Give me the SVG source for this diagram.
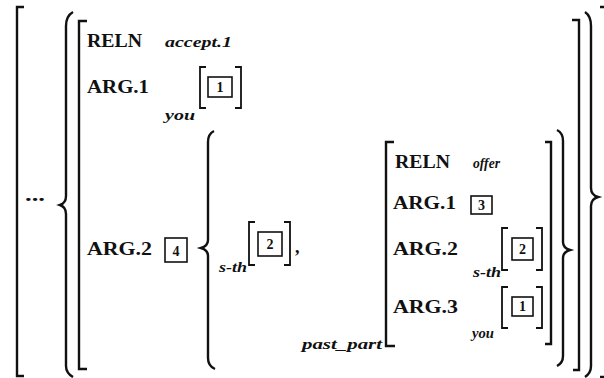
<svg xmlns="http://www.w3.org/2000/svg" width="604" height="378" viewBox="0 0 604 378">
  <style>
    .br { fill: none; stroke: #111; stroke-width: 2.4; stroke-linecap: butt; stroke-linejoin: miter; }
    .sb { fill: none; stroke: #111; stroke-width: 1.8; }
    .bx { fill: #fff; stroke: #111; stroke-width: 1.6; }
    .ft { font-family: "Liberation Serif", "DejaVu Serif", serif; font-weight: bold; font-size: 18px; fill: #111; }
    .vl { font-family: "Liberation Serif", "DejaVu Serif", serif; font-weight: bold; font-style: italic; font-size: 15px; fill: #111; }
    .nm { font-family: "Liberation Serif", "DejaVu Serif", serif; font-weight: bold; font-size: 14px; fill: #111; text-anchor: middle; }
  </style>
  <rect width="604" height="378" fill="#fff"/>

  <!-- outer list brackets -->
  <g id="outer">
    <path class="br" d="M24,7 H17 V376 H24"/>
    <path class="br" d="M600,7 H606 V377 H600"/>
    <text class="ft" x="25" y="201" textLength="20" lengthAdjust="spacingAndGlyphs">...</text>
  </g>

  <!-- set braces around the main structure -->
  <g id="outer-set">
    <path class="br" d="M73,12 Q66,16 66,26 V196 Q66,203 60,205 Q66,207 66,214 V366 Q66,373 73,377"/>
    <path class="br" d="M585,12 Q591,16 591,26 V188 Q591,195 598,197 Q591,199 591,206 V366 Q591,373 585,377"/>
  </g>

  <!-- accept.1 feature structure -->
  <g id="accept">
    <path class="br" d="M87,21 H79 V369 H87"/>
    <path class="br" d="M572,20 H579 V370 H573"/>
    <text class="ft" x="87" y="47" textLength="55" lengthAdjust="spacingAndGlyphs">RELN</text>
    <text class="vl" x="165" y="47" textLength="67" lengthAdjust="spacingAndGlyphs">accept.1</text>
    <text class="ft" x="87" y="93" textLength="62" lengthAdjust="spacingAndGlyphs">ARG.1</text>
    <text class="vl" x="165" y="120" textLength="30" lengthAdjust="spacingAndGlyphs">you</text>
    <path class="sb" d="M206,67 H200 V108 H206"/>
    <path class="sb" d="M235,67 H241 V108 H235"/>
    <rect class="bx" x="208" y="77" width="24" height="20"/>
    <text class="nm" x="220" y="92">1</text>
    <text class="ft" x="87" y="255" textLength="65" lengthAdjust="spacingAndGlyphs">ARG.2</text>
    <rect class="bx" x="165" y="238" width="22" height="24"/>
    <text class="nm" x="176" y="256">4</text>
  </g>

  <!-- disjunction set for ARG.2 -->
  <g id="arg2-set">
    <path class="br" d="M214,131 Q208,134 208,142 V240 Q208,246 201,248 Q208,250 208,256 V358 Q208,366 215,369"/>
    <path class="br" d="M557,130 Q563,133 563,141 V242 Q563,248 570,250 Q563,252 563,258 V356 Q563,363 557,366"/>
  </g>

  <!-- s-th [2] -->
  <g id="sth">
    <text class="vl" x="219" y="272" textLength="28" lengthAdjust="spacingAndGlyphs">s-th</text>
    <path class="sb" d="M255,222 H249 V265 H255"/>
    <path class="sb" d="M284,222 H290 V265 H284"/>
    <rect class="bx" x="258" y="232" width="24" height="24"/>
    <text class="nm" x="270" y="249">2</text>
    <text class="ft" x="295" y="253">,</text>
  </g>

  <!-- offer feature structure -->
  <g id="offer">
    <path class="br" d="M394,142 H386 V346 H395"/>
    <path class="br" d="M545,142 H551 V344 H545"/>
    <text class="vl" x="302" y="349" textLength="80" lengthAdjust="spacingAndGlyphs">past_part</text>
    <text class="ft" x="395" y="168" textLength="55" lengthAdjust="spacingAndGlyphs">RELN</text>
    <text class="vl" x="473" y="168" textLength="27" lengthAdjust="spacingAndGlyphs">offer</text>
    <text class="ft" x="393" y="209" textLength="63" lengthAdjust="spacingAndGlyphs">ARG.1</text>
    <rect class="bx" x="471" y="196" width="21" height="18"/>
    <text class="nm" x="481.5" y="210">3</text>
    <text class="ft" x="393" y="255" textLength="65" lengthAdjust="spacingAndGlyphs">ARG.2</text>
    <text class="vl" x="473" y="277" textLength="28" lengthAdjust="spacingAndGlyphs">s-th</text>
    <path class="sb" d="M508,228 H502 V270 H508"/>
    <path class="sb" d="M536,228 H542 V270 H536"/>
    <rect class="bx" x="512" y="238" width="21" height="22"/>
    <text class="nm" x="522.5" y="254">2</text>
    <text class="ft" x="393" y="313" textLength="65" lengthAdjust="spacingAndGlyphs">ARG.3</text>
    <text class="vl" x="472" y="338" textLength="22" lengthAdjust="spacingAndGlyphs">you</text>
    <path class="sb" d="M508,287 H502 V328 H508"/>
    <path class="sb" d="M536,287 H542 V328 H536"/>
    <rect class="bx" x="512" y="297" width="21" height="19"/>
    <text class="nm" x="522.5" y="311">1</text>
  </g>
</svg>
